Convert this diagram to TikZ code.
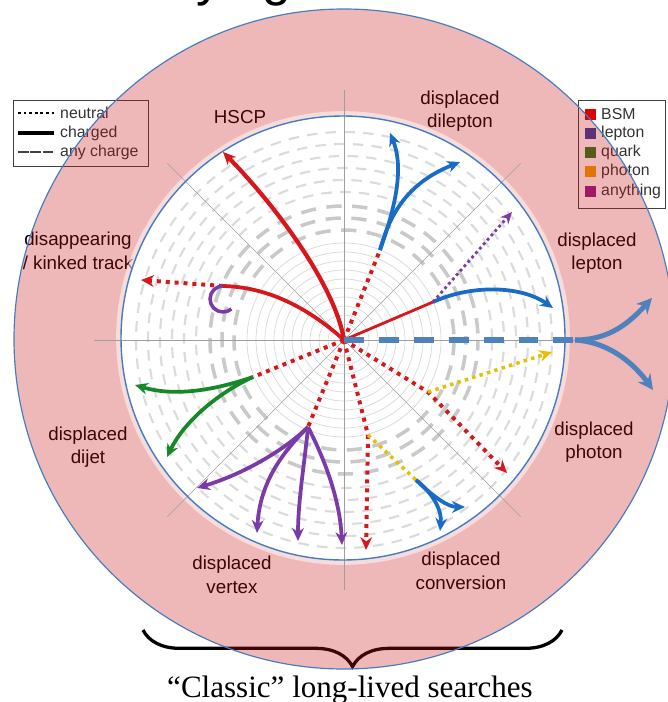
\documentclass[tikz,border=0pt]{standalone}
\usepackage{fontspec}
\setmainfont{Liberation Sans}
\newfontfamily\serifface{Liberation Serif}
\usetikzlibrary{arrows.meta,decorations.pathreplacing}

\definecolor{bsmred}{RGB}{214,24,28}
\definecolor{leptonblue}{RGB}{24,108,200}
\definecolor{quarkgreen}{RGB}{22,136,40}
\definecolor{photonyellow}{RGB}{230,192,0}
\definecolor{anypurple}{RGB}{122,58,168}
\definecolor{steelblue}{RGB}{79,129,189}
\definecolor{rimblue}{RGB}{70,124,194}
\definecolor{ringred}{RGB}{200,20,20}
\definecolor{legbsm}{RGB}{222,0,0}
\definecolor{leglep}{RGB}{48,62,160}
\definecolor{legquark}{RGB}{40,120,30}
\definecolor{legpho}{RGB}{236,160,0}
\definecolor{legany}{RGB}{140,30,140}

\tikzset{
  chgtrack/.style={line width=3.2pt, -{Stealth[length=11pt,width=10pt]}},
  neutrack/.style={line width=3.4pt, dash pattern=on 3.4pt off 4.2pt, -{Stealth[length=11pt,width=10pt]}},
  thinneutrack/.style={line width=2.4pt, dash pattern=on 2.4pt off 2.6pt, -{Stealth[length=10pt,width=9pt]}},
  exitarrow/.style={steelblue, line width=4.3pt, -{Stealth[length=13pt,width=13pt]}},
  nearring/.style={gray!30, line width=0.6pt},
  midring/.style={gray!42, line width=3pt, dash pattern=on 13pt off 9pt},
  farring/.style={gray!28, line width=1.8pt, dash pattern=on 9pt off 7pt},
  ringlabel/.style={font=\fontsize{16}{20}\selectfont, align=center, inner sep=0pt},
  legtext/.style={font=\fontsize{13.5}{16}\selectfont, anchor=west, inner sep=0pt, text=black!80}
}

\begin{document}
\begin{tikzpicture}[x=0.03cm, y=-0.03cm]
  \useasboundingbox (0,0) rectangle (667,702);
  \coordinate (det) at (343,338);
  \coordinate (ip) at (344,340);

  % heading, cut off by the top edge
  \node[font=\fontsize{44}{44}\selectfont, anchor=base west, inner sep=0pt] (title) at (196,-4) {ying};

  % line style legend
  \draw[black!75, line width=0.8pt] (13,100) rectangle (148,166);
  \draw[line width=2.4pt, dash pattern=on 2.4pt off 2.4pt] (18,113) -- (54,113);
  \draw[line width=2.8pt] (18,133) -- (54,133);
  \draw[black!75, line width=2.2pt, dash pattern=on 9pt off 1.5pt] (18,152) -- (54,152);
  \node[legtext] (legneu) at (60,113) {neutral};
  \node[legtext] (legchg) at (60,133) {charged};
  \node[legtext] (legany) at (60,152) {any charge};

  % colour legend
  \draw[black!75, line width=0.8pt] (578,100) rectangle (665,208);
  \foreach \c/\t/\y in {legbsm/BSM/114, leglep/lepton/133, legquark/quark/152, legpho/photon/171, legany/anything/191} {
    \fill[\c] (585,\y-5.5) rectangle (596,\y+5.5);
    \node[legtext] (leg-\t) at (601,\y) {\t};
  }

  % signature names round the ring
  \node[ringlabel] (hscp) at (240,117) {HSCP};
  \node[ringlabel] (dilep) at (460,111) {displaced\\dilepton};
  \node[ringlabel] (lepl) at (597,253) {displaced\\lepton};
  \node[ringlabel] (kinkl) at (78,251) {disappearing\\/ kinked track};
  \node[ringlabel] (dijetl) at (88,447) {displaced\\dijet};
  \node[ringlabel] (vtxl) at (232,575) {displaced\\vertex};
  \node[ringlabel] (convl) at (461,571) {displaced\\conversion};
  \node[ringlabel] (phl) at (594,442) {displaced\\photon};

  % brace and caption
  \coordinate (bracer) at (562,630);
  \coordinate (bracel) at (143,630);
  \draw[line width=2.8pt, decorate, decoration={brace, amplitude=1.1cm}] (bracer) -- (bracel);
  \node[font=\serifface\fontsize{26.5}{30}\selectfont, anchor=base, inner sep=0pt] (classic) at (350,697) {“Classic” long-lived searches};

  % detector ring and inner volume
  \fill[ringred, fill opacity=0.3] (344,339) circle[radius=330];
  \fill[white] (det) circle[radius=222];
  \draw[white, line width=4pt, opacity=0.5] (det) circle[radius=224.5];

  \foreach \r in {16,25,34,43,52,61,70,79,88,97}
    \draw[nearring] (ip) circle[radius=\r];
  \foreach \r/\ph in {110/0,122/9,134/4}
    \draw[midring, dash phase=\ph pt] (ip) circle[radius=\r];
  \foreach \r/\ph in {148/0,160/6,172/2,184/9,196/4,208/11}
    \draw[farring, dash phase=\ph pt] (ip) circle[radius=\r];
  \foreach \a in {0,45,...,315}
    \draw[gray!75, line width=0.5pt] (ip) -- ++(\a:250);

  \draw[rimblue, line width=1pt] (344,339) circle[radius=330];
  \draw[rimblue, line width=1.2pt] (det) circle[radius=222];

  % track end points and vertices
  \coordinate (hscpend) at (223,152);
  \coordinate (kink) at (223,286);
  \coordinate (kinkend) at (141,280);
  \coordinate (dlvtx) at (380,250);
  \coordinate (dlA) at (390,133);
  \coordinate (dlB) at (460,162);
  \coordinate (lepvtx) at (433,302);
  \coordinate (lepend) at (553,308);
  \coordinate (anyend) at (512,212);
  \coordinate (phvtx) at (428,392);
  \coordinate (phend) at (507,473);
  \coordinate (gamend) at (552,352);
  \coordinate (cvgam) at (368,435);
  \coordinate (cvend) at (366,550);
  \coordinate (cvvtx) at (416,480);
  \coordinate (cvA) at (465,507);
  \coordinate (cvB) at (440,531);
  \coordinate (djvtx) at (253,377);
  \coordinate (djA) at (135,385);
  \coordinate (djB) at (167,457);
  \coordinate (dvvtx) at (308,427);
  \coordinate (dva) at (197,488);
  \coordinate (dvb) at (257,533);
  \coordinate (dvc) at (298,541);
  \coordinate (dvd) at (342,545);
  \coordinate (dashend) at (575,340);
  \coordinate (exitup) at (652,298);
  \coordinate (exitdown) at (653,390);

  % neutral BSM legs
  \draw[neutrack, bsmred, -] (ip) -- (dlvtx);
  \draw[neutrack, bsmred, -] (ip) -- (djvtx);
  \draw[neutrack, bsmred, -] (ip) -- (dvvtx);
  \draw[neutrack, bsmred] (ip) -- (phvtx) -- (phend);
  \draw[neutrack, bsmred] (ip) -- (cvgam) -- (cvend);
  \draw[neutrack, bsmred] (kink) -- (kinkend);

  % charged BSM legs
  \draw[chgtrack, bsmred, line width=3.6pt] (ip) .. controls (335,285) and (275,205) .. (hscpend);
  \draw[chgtrack, bsmred, -] (ip) .. controls (305,305) and (265,287) .. (kink);
  \draw[chgtrack, bsmred, line width=2.4pt, -] (ip) -- (lepvtx);
  \draw[anypurple, line width=3pt] (kink) arc[start angle=-90, end angle=-310, radius=13];

  % leptons
  \draw[chgtrack, leptonblue] (dlvtx) .. controls (398,200) and (403,165) .. (dlA);
  \draw[chgtrack, leptonblue] (dlvtx) .. controls (392,205) and (415,180) .. (dlB);
  \draw[chgtrack, leptonblue] (lepvtx) .. controls (470,285) and (520,285) .. (lepend);
  \draw[thinneutrack, anypurple] (lepvtx) -- (anyend);

  % photons and conversion
  \draw[neutrack, photonyellow, line width=3pt, dash pattern=on 3pt off 3.6pt] (phvtx) -- (gamend);
  \draw[neutrack, photonyellow, line width=3pt, dash pattern=on 3pt off 3.6pt, -] (cvgam) -- (cvvtx);
  \draw[chgtrack, leptonblue] (cvvtx) .. controls (435,498) and (448,507) .. (cvA);
  \draw[chgtrack, leptonblue] (cvvtx) .. controls (435,495) and (442,512) .. (cvB);

  % dijet
  \draw[chgtrack, quarkgreen] (djvtx) .. controls (215,390) and (175,397) .. (djA);
  \draw[chgtrack, quarkgreen] (djvtx) .. controls (220,392) and (185,420) .. (djB);

  % displaced vertex
  \draw[chgtrack, anypurple] (dvvtx) .. controls (290,445) and (250,472) .. (dva);
  \draw[chgtrack, anypurple] (dvvtx) .. controls (285,450) and (260,480) .. (dvb);
  \draw[chgtrack, anypurple] (dvvtx) .. controls (305,460) and (298,500) .. (dvc);
  \draw[chgtrack, anypurple] (dvvtx) .. controls (325,460) and (340,500) .. (dvd);

  % any charge, leaving the detector
  \draw[steelblue, line width=5pt, dash pattern=on 17pt off 12.8pt] (ip) -- (dashend);
  \draw[exitarrow] (dashend) .. controls (610,340) and (630,322) .. (exitup);
  \draw[exitarrow] (dashend) .. controls (610,342) and (635,365) .. (exitdown);
\end{tikzpicture}
\end{document}
